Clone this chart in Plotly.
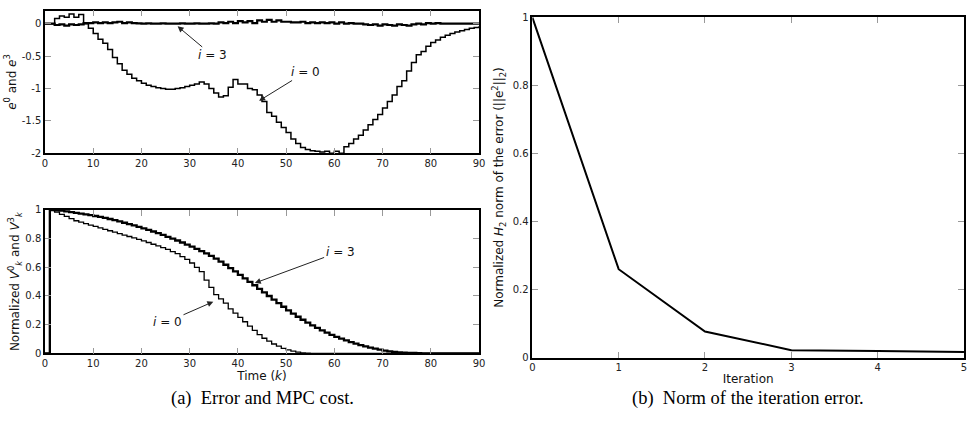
import plotly.graph_objects as go

# ---------------- data ----------------
k = list(range(0, 91))

e0 = [0, 0, 0.08, 0.12, 0.10, 0.15, 0.10, 0.14, 0.0, -0.07,
      -0.15, -0.24, -0.30, -0.40, -0.52, -0.62, -0.72, -0.78, -0.84, -0.88,
      -0.92, -0.95, -0.97, -0.99, -1.00, -1.01, -1.01, -1.00, -0.99, -0.97,
      -0.95, -0.93, -0.90, -0.93, -1.00, -1.07, -1.13, -1.11, -0.98, -0.86,
      -0.93, -0.93, -1.00, -1.02, -1.10, -1.20, -1.37, -1.43, -1.52, -1.60,
      -1.68, -1.78, -1.85, -1.91, -1.94, -1.96, -1.97, -1.98, -1.97, -2.00,
      -1.97, -2.00, -1.90, -1.85, -1.78, -1.72, -1.64, -1.56, -1.48, -1.40,
      -1.30, -1.20, -1.10, -0.97, -0.88, -0.73, -0.60, -0.48, -0.43, -0.35,
      -0.29, -0.25, -0.21, -0.18, -0.15, -0.13, -0.11, -0.09, -0.07, -0.06,
      -0.04]

e3 = [0, 0, -0.02, -0.01, -0.03, -0.01, -0.02, -0.01, 0.01, 0.01,
      0.02, 0.01, 0.02, 0.01, 0.02, 0.03, 0.01, 0.02, 0.01, 0.005,
      0.0, 0.005, 0.0, 0.0, 0.005, 0.0, 0.0, 0.0, 0.005, 0.0,
      0.0, 0.005, 0.0, 0.0, 0.005, 0.0, 0.02, 0.01, 0.03, 0.01,
      0.04, 0.02, 0.04, 0.01, 0.05, 0.03, 0.06, 0.03, 0.05, 0.03,
      0.03, 0.02, 0.02, 0.03, 0.01, 0.02, 0.01, 0.02, 0.01, 0.02,
      0.0, 0.02, 0.0, 0.01, 0.0, 0.0, -0.01, -0.02, -0.01, -0.03,
      -0.01, -0.02, -0.03, -0.01, -0.02, -0.03, -0.01, 0.0, -0.01, 0.01,
      0.0, 0.01, 0.0, 0.0, 0.0, 0.0, 0.0, 0.0, 0.0, 0.0,
      0.0]

V0 = [0, 1.0, 0.985, 0.97, 0.955, 0.94, 0.925, 0.915, 0.905, 0.895,
      0.885, 0.875, 0.865, 0.855, 0.845, 0.835, 0.825, 0.815, 0.805, 0.795,
      0.785, 0.773, 0.761, 0.749, 0.737, 0.725, 0.71, 0.695, 0.675, 0.655,
      0.63, 0.60, 0.57, 0.51, 0.46, 0.41, 0.38, 0.35, 0.31, 0.28,
      0.25, 0.22, 0.19, 0.16, 0.13, 0.105, 0.085, 0.065, 0.05, 0.035,
      0.024, 0.015, 0.008, 0.003, 0.001, 0, 0, 0, 0, 0,
      0, 0, 0, 0, 0, 0, 0, 0, 0, 0,
      0, 0, 0, 0, 0, 0, 0, 0, 0, 0,
      0, 0, 0, 0, 0, 0, 0, 0, 0, 0,
      0]

V3 = [0, 1.0, 0.998, 0.995, 0.99, 0.985, 0.98, 0.975, 0.97, 0.964,
      0.958, 0.952, 0.945, 0.937, 0.929, 0.92, 0.911, 0.902, 0.892, 0.882,
      0.872, 0.861, 0.85, 0.838, 0.826, 0.813, 0.80, 0.787, 0.773, 0.759,
      0.744, 0.729, 0.713, 0.697, 0.68, 0.66, 0.64, 0.618, 0.595, 0.571,
      0.547, 0.523, 0.499, 0.475, 0.45, 0.425, 0.40, 0.375, 0.35, 0.325,
      0.30, 0.277, 0.255, 0.234, 0.214, 0.195, 0.177, 0.16, 0.144, 0.129,
      0.115, 0.102, 0.09, 0.078, 0.067, 0.057, 0.048, 0.04, 0.032, 0.025,
      0.019, 0.014, 0.01, 0.007, 0.005, 0.003, 0.002, 0.001, 0, 0,
      0, 0, 0, 0, 0, 0, 0, 0, 0, 0,
      0]

iterations = [0, 1, 2, 3, 4, 5]
norm_err = [1.0, 0.26, 0.077, 0.022, 0.02, 0.017]

time_ticks = [0, 10, 20, 30, 40, 50, 60, 70, 80, 90]
e_ticks = [0, -0.5, -1, -1.5, -2]
e_ticktext = ["0", "-0.5", "-1", "-1.5", "-2"]
v_ticks = [0, 0.2, 0.4, 0.6, 0.8, 1]
v_ticktext = ["0", "0.2", "0.4", "0.6", "0.8", "1"]
it_ticks = [0, 1, 2, 3, 4, 5]

# ---------------- figure ----------------
fig = go.Figure()
BLACK = "black"

fig.add_trace(go.Scatter(x=k, y=e3, mode="lines", line=dict(color=BLACK, width=2.2, shape="hv"),
                         xaxis="x", yaxis="y", showlegend=False))
fig.add_trace(go.Scatter(x=k, y=e0, mode="lines", line=dict(color=BLACK, width=1.5, shape="hv"),
                         xaxis="x", yaxis="y", showlegend=False))
fig.add_trace(go.Scatter(x=k, y=V0, mode="lines", line=dict(color=BLACK, width=1.3, shape="hv"),
                         xaxis="x2", yaxis="y2", showlegend=False))
fig.add_trace(go.Scatter(x=k, y=V3, mode="lines", line=dict(color=BLACK, width=2.3, shape="hv"),
                         xaxis="x2", yaxis="y2", showlegend=False))
fig.add_trace(go.Scatter(x=iterations, y=norm_err, mode="lines", line=dict(color=BLACK, width=2),
                         xaxis="x3", yaxis="y3", showlegend=False))

TICKFONT = dict(family="DejaVu Sans, Arial, sans-serif", size=10, color="#222")
TITLEFONT = dict(family="DejaVu Sans, Arial, sans-serif", size=12, color="#111")

def ax(**kw):
    d = dict(showline=True, linecolor=BLACK, linewidth=1.5, mirror="ticks",
             ticks="inside", ticklen=6, tickcolor="#999", tickwidth=1,
             showgrid=False, zeroline=False, tickfont=TICKFONT, automargin=False)
    d.update(kw)
    return d

fig.update_layout(
    width=970, height=422,
    margin=dict(l=0, r=0, t=0, b=0, autoexpand=False),
    paper_bgcolor="white", plot_bgcolor="white",
    xaxis=ax(domain=[0.0464, 0.4938], range=[0, 90], tickvals=time_ticks, anchor="y"),
    yaxis=ax(domain=[0.6367, 0.9746], range=[-2, 0.2], tickvals=e_ticks, ticktext=e_ticktext,
             anchor="x", title=dict(text="<i>e</i><sup>0</sup> and <i>e</i><sup>3</sup>",
                                    font=TITLEFONT, standoff=3)),
    xaxis2=ax(domain=[0.0464, 0.4938], range=[0, 90], tickvals=time_ticks, anchor="y2",
              title=dict(text="Time (<i>k</i>)", font=TITLEFONT, standoff=3)),
    yaxis2=ax(domain=[0.1628, 0.5024], range=[0, 1], tickvals=v_ticks, ticktext=v_ticktext,
              anchor="x2",
              title=dict(text="Normalized <i>V</i><sup>0</sup><sub><i>k</i></sub> and <i>V</i><sup>3</sup><sub><i>k</i></sub>",
                         font=TITLEFONT, standoff=3)),
    xaxis3=ax(domain=[0.5488, 0.9938], range=[0, 5], tickvals=it_ticks, anchor="y3",
              title=dict(text="Iteration", font=TITLEFONT, standoff=2)),
    yaxis3=ax(domain=[0.1524, 0.959], range=[0, 1], tickvals=v_ticks, ticktext=v_ticktext,
              anchor="x3",
              title=dict(text="Normalized <i>H</i><sub>2</sub> norm of the error (||e<sup>2</sup>||<sub>2</sub>)",
                         font=TITLEFONT, standoff=6)),
)

ANNFONT = dict(family="DejaVu Sans, Arial, sans-serif", size=12, color="#111")

def arrow(xr, yr, x, y, axv, ayv, text):
    fig.add_annotation(xref=xr, yref=yr, axref=xr, ayref=yr, x=x, y=y, ax=axv, ay=ayv,
                       text=text, showarrow=True, arrowhead=2, arrowsize=1.2, arrowwidth=1,
                       arrowcolor="#222", font=ANNFONT, standoff=0, startstandoff=0)

arrow("x", "y", 27.5, -0.04, 34.7, -0.49, "<i>i</i> = 3")
arrow("x", "y", 44.4, -1.19, 54.1, -0.745, "<i>i</i> = 0")
arrow("x2", "y2", 43.5, 0.49, 61.2, 0.71, "<i>i</i> = 3")
arrow("x2", "y2", 34.9, 0.36, 25.4, 0.22, "<i>i</i> = 0")

CAPFONT = dict(family="Liberation Serif, DejaVu Serif, serif", size=18.5, color="black")
fig.add_annotation(xref="paper", yref="paper", x=262 / 970, y=1 - 398 / 422, text="(a)  Error and MPC cost.",
                   showarrow=False, font=CAPFONT, xanchor="center", yanchor="middle")
fig.add_annotation(xref="paper", yref="paper", x=748 / 970, y=1 - 398 / 422,
                   text="(b)  Norm of the iteration error.",
                   showarrow=False, font=CAPFONT, xanchor="center", yanchor="middle")

fig.write_html("out.html", config={"displayModeBar": False},
               post_script="document.body.style.margin='0';document.body.style.padding='0';"
                           "document.documentElement.style.overflow='hidden';")
